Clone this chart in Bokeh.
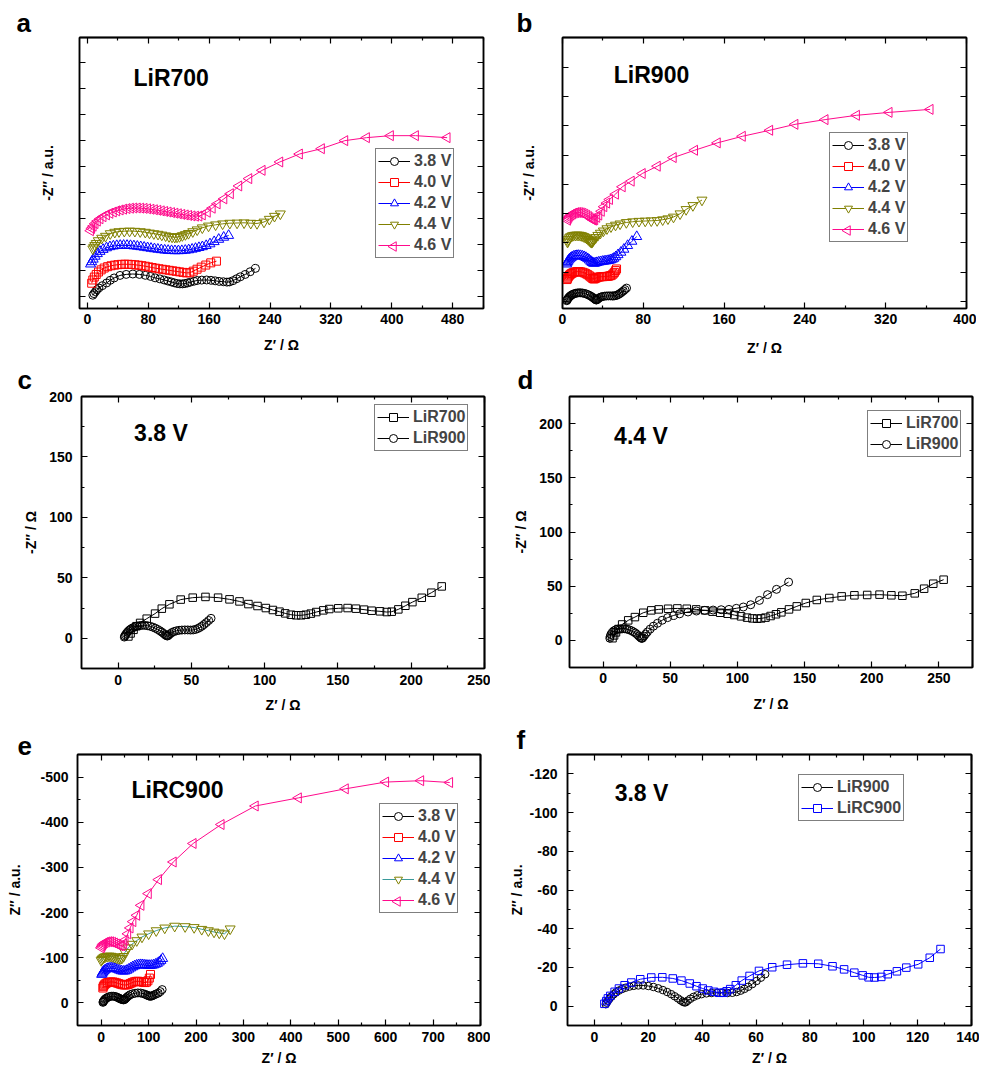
import math
from bokeh.plotting import figure
from bokeh.layouts import column, row
from bokeh.models import FixedTicker, LinearAxis, Range1d, Legend, LegendItem, Label
from bokeh.embed import file_html
from bokeh.resources import INLINE

FONT = "Liberation Sans"
BLACK, RED, BLUE, OLIVE, PINK, TEAL = "#000000", "#ff0000", "#0000ff", "#808000", "#ff0a8c", "#3a9a9a"
VOLTS = ["3.8 V", "4.0 V", "4.2 V", "4.4 V", "4.6 V"]
NAN = float("nan")

# ---------------- data ----------------
# LiR700, 3.8 V (panel c; also panel a)
LIR700_38_X = [7, 8.5, 10.5, 12.5, 15, 19.5, 25.2, 29.8, 35, 42.7, 50.9, 59.6, 68.2, 76, 82.8, 88.9, 95.1, 100.8, 105.6, 110.1,
               114, 117.9, 121.5, 124.9, 128.1, 131.5, 135.2, 140, 144.1, 150.2, 156.6, 162.3, 167.8, 173, 178.7, 183.3,
               186.7, 191.2, 196, 200.8, 207.2, 213.8, 220.8]
LIR700_38_Y = [1.5, 4, 7, 10, 12.7, 16.2, 20.4, 24.5, 28.1, 32, 33.6, 34.2, 33.6, 32.2, 30.5, 28.3, 26.7, 25, 23.4, 22,
               20.6, 19.5, 19, 19, 19.5, 20.4, 21.7, 23.1, 24.2, 24.8, 25, 24.5, 23.7, 22.8, 22.3, 21.7,
               22, 23.9, 26.9, 29.9, 33.5, 37.7, 42.9]
# LiR700, 4.4 V (panel d; also panel a)
LIR700_44_X = [7, 8.2, 9.6, 11.5, 14.2, 18.7, 23.7, 29.9, 35.9, 41.4, 48.4, 55.3, 62.3, 69.3, 76, 81.5, 87.2, 92.7, 97.7,
               102.7, 107.2, 111.2, 114.7, 117.7, 120.9, 124.7, 128.7, 132.7, 138.4, 144.2, 150.9, 159.1, 168.4, 177.6,
               187.1, 196.6, 205.8, 214.6, 222.8, 232, 239, 245.8, 253.5]
LIR700_44_Y = [2, 4.6, 7.4, 10.5, 14.7, 18.5, 21.5, 25.5, 27.7, 28.6, 29.2, 29.5, 29.2, 28.6, 27.7, 26.5, 25.5, 24.6, 23.4,
               22.2, 21, 20.3, 20, 20.3, 21, 22.5, 24.1, 25.9, 28.6, 31.4, 34.5, 37.3, 39.1, 40.6,
               41.6, 41.9, 42.2, 41.6, 41.2, 43.4, 47.7, 52.3, 56]
# LiR700 in panel a (a.u., stacked)
LIR700_40_X = [5.5, 7, 9, 11.5, 14.5, 18, 22, 26.5, 31, 35.5, 40, 44.5, 49, 53.5, 58, 62.5, 67, 71.5, 76, 80.5, 85, 89.5,
               94, 98.5, 103, 107.5, 112, 116.5, 121, 125.5, 130, 134.5, 139, 144, 149.5, 155.5, 162, 169.5]
LIR700_40_Y = [20, 25, 29.5, 33.5, 37.3, 40.6, 43.4, 45.5, 46.9, 47.9, 48.6, 49.1, 49.3, 49.2, 48.9, 48.4, 47.8, 47.1, 46.2,
               45.2, 44.2, 43.2, 42.3, 41.5, 40.7, 39.9, 39.1, 38.3, 37.5, 36.7, 35.9, 36.2, 38.6, 41.6, 44.8, 48, 51.4, 54]
LIR700_42_X = [4, 5.5, 7.5, 10, 13, 16.5, 20.5, 25, 29.5, 34, 38.5, 43, 47.5, 52, 56.5, 61, 65.5, 70, 74.5, 79, 83.5, 88,
               92.5, 97, 101.5, 106, 110.5, 115, 119.5, 124, 128.5, 133, 137.5, 142, 146.5, 151, 156, 161, 166.5, 172.5,
               179, 185.5]
LIR700_42_Y = [49.5, 53, 57, 61.5, 65.5, 69, 72, 74.5, 76.2, 77.3, 78, 78.3, 78.4, 78.3, 78, 77.5, 76.9, 76.2, 75.4, 74.6,
               73.8, 73, 72.3, 71.6, 71, 70.5, 70.2, 70, 70, 70.2, 70.7, 71.4, 72.4, 73.6, 74.9, 76.2, 78, 80.6, 84, 87.6,
               90.8, 93.6]
LIR700_46_X = [4, 5.5, 7.5, 10, 13, 16.5, 20.5, 25, 29.5, 34, 38.5, 43, 47.5, 52, 56.5, 61, 65.5, 70, 74.5, 79, 83.5, 88,
               92.5, 97, 101.5, 106, 110.5, 115, 119.5, 124, 128.5, 133, 137.5, 142, 146.5, 151, 157.5, 164, 170.5, 179.3,
               187.9, 198.9, 212.1, 229.6, 252.8, 278.6, 307.5, 338.2, 366.7, 398.2, 431.1, 472.7]
LIR700_46_Y = [101, 104.5, 108, 112, 115.8, 119.4, 122.6, 125.4, 127.8, 129.8, 131.6, 133, 134.2, 135.1, 135.7, 136, 136,
               135.8, 135.4, 134.8, 134.1, 133.3, 132.5, 131.6, 130.7, 129.8, 128.9, 128, 127.1, 126.2, 125.3, 124.5,
               123.8, 123.4, 123.6, 125.4, 129.5, 135.7, 142.4, 150.1, 158, 170, 181.3, 194.1, 207, 219.3, 227.5, 239.9,
               244.5, 247.6, 247.6, 244.5]
A_OFFSET_38 = 0
A_OFFSET_44 = 71

# LiR900, 3.8 V (panels c, f; also b)
LIR900_38_X = [4.2, 4.5, 5.0, 5.6, 6.3, 7.1, 8.0, 9.0, 10.2, 11.5, 13.0, 14.6, 16.3, 18.1, 20.0, 21.9, 23.7, 25.4, 27.0,
               28.5, 29.8, 31.0, 32.0, 32.8, 33.4, 33.9, 34.6, 35.6, 36.8, 38.2, 39.8, 41.6, 43.5, 45.5, 47.5, 49.4, 51.2,
               52.8, 54.3, 55.7, 57.1, 58.6, 60.2, 61.8, 63.4]
LIR900_38_Y = [1.0, 1.8, 2.8, 3.9, 5.0, 6.1, 7.1, 8.0, 8.8, 9.5, 10.1, 10.5, 10.7, 10.7, 10.4, 9.9, 9.2, 8.3, 7.3, 6.2,
               5.1, 4.0, 3.0, 2.3, 1.9, 2.0, 2.8, 3.8, 4.8, 5.6, 6.2, 6.6, 6.8, 6.9, 6.9, 6.8, 6.9, 7.3, 8.0, 8.9, 10.0,
               11.4, 13.0, 14.7, 16.5]
# LiR900, 4.4 V (panel d; also b)
LIR900_44_X = [5, 5.3, 5.8, 6.9, 8, 9.4, 11, 12.9, 14.5, 16.2, 17.8, 19.4, 21, 22.5, 24, 25.4, 26.6, 27.6, 28.4, 28.9,
               29.5, 30.5, 31.6, 33, 35, 37.5, 40.5, 44, 48, 52.5, 57, 63.2, 69.5, 75.7, 81.9, 87.9, 93.7, 99.2, 104.4,
               109.9, 116.4, 122.4, 129.1, 138.1]
LIR900_44_Y = [2, 3.5, 5.5, 7.5, 8.8, 9.8, 10.4, 10.7, 10.8, 10.7, 10.4, 9.8, 9, 8, 6.8, 5.4, 4, 2.9, 2.1, 1.8,
               2.4, 4, 5.8, 7.8, 10.4, 13.1, 15.8, 18.6, 21, 23, 24.5, 26.2, 27.1, 27.7, 28, 28.3, 28.6, 29.6, 30.8,
               32.9, 36.9, 42.2, 47.1, 53.8]
# LiR900 in panel b (a.u., stacked)
LIR900_40_X = [4.5, 5, 5.5, 6.2, 7, 8, 9, 10.2, 11.5, 13, 14.6, 16.3, 18, 19.8, 21.6, 23.3, 25, 26.6, 28, 29.2, 30.2,
               31, 31.8, 32.8, 34, 35.5, 37, 38.6, 40.2, 41.8, 43.3, 44.8, 46.2, 47.6, 49, 50.2, 51.4, 52.6, 53.5]
LIR900_40_Y = [27, 28.5, 30, 31.3, 32.5, 33.6, 34.5, 35.3, 36, 36.5, 36.8, 36.8, 36.5, 36, 35.2, 34.2, 33, 31.6, 30.2,
               29, 28.2, 27.8, 28, 28.6, 29.3, 29.9, 30.3, 30.5, 30.6, 30.7, 30.8, 31, 31.3, 31.8, 32.6, 34, 35.8, 38, 40]
LIR900_42_X = [4, 4.5, 5.2, 6, 7, 8.2, 9.5, 11, 12.6, 14.3, 16, 17.8, 19.6, 21.4, 23.2, 25, 26.6, 28, 29.2, 30.2, 31.2,
               32.5, 34, 35.8, 37.6, 39.5, 41.3, 43, 44.6, 46.2, 47.8, 49.4, 51, 52.8, 55, 57.8, 60.8, 64.5, 68.7, 73.5]
LIR900_42_Y = [46, 47.5, 49.2, 50.8, 52.3, 53.6, 54.7, 55.6, 56.2, 56.5, 56.6, 56.4, 55.9, 55.1, 54, 52.6, 51, 49.4,
               48.1, 47.3, 47, 47.2, 47.8, 48.4, 48.9, 49.3, 49.6, 49.9, 50.2, 50.6, 51.2, 52, 53.2, 55, 57.5, 60.5,
               64.2, 68.8, 74, 79.8]
LIR900_46_X = [5, 5.6, 6.4, 7.4, 8.6, 10, 11.6, 13.3, 15, 16.8, 18.6, 20.4, 22.2, 24, 25.7, 27.3, 28.7, 30, 31, 32,
               34, 36, 38.5, 41, 43.8, 46.6, 52.5, 59.2, 68.1, 79, 93.9, 109.7, 130.8, 153.3, 178.1, 205.2, 230.2, 260,
               291.1, 323.4, 364]
LIR900_46_Y = [100, 101.8, 103.6, 105.2, 106.6, 107.8, 108.7, 109.3, 109.5, 109.4, 109, 108.3, 107.3, 106, 104.5, 103,
               101.6, 100.5, 100.1, 100.6, 103.5, 106.3, 111, 116.6, 121, 125.5, 132, 141.1, 148, 157.4, 166.4, 177,
               186, 195.1, 203.2, 210.6, 217.9, 223.7, 229, 232.6, 236.3]
B_OFFSET_38 = 0
B_OFFSET_44 = 71

# LiRC900, 3.8 V (panel f; also e)
LIRC900_38_X = [3.7, 4.4, 5, 5.9, 7.5, 9.1, 11.2, 13.7, 17, 21.1, 25.2, 29.1, 32.3, 35.4, 37.9, 40.2, 42.3, 44.4, 46.4,
                47.9, 49.1, 50.4, 52.5, 54.7, 57.6, 61.1, 66, 71.5, 77.4, 83.1, 88.4, 92.7, 96.5, 99.6, 101.8, 104,
                106.5, 108.9, 112.3, 115.8, 120.2, 124.5, 128.5]
LIRC900_38_Y = [1.2, 2.6, 4, 5.3, 7.4, 9.1, 10.8, 12.2, 13.9, 14.8, 14.9, 14.3, 13.2, 11.7, 10.3, 9.1, 8.1, 7.4, 6.9,
                6.9, 7.7, 8.8, 10.8, 13.2, 15.6, 18.2, 20.1, 21.4, 22.1, 21.9, 20.6, 19, 17.3, 15.9, 14.9, 14.8,
                15.1, 16.5, 18, 19.9, 21.6, 25, 29.5]
# LiRC900 in panel e (stacked)
LIRC900_40_X = [3.5, 4.5, 6, 8, 10.5, 13.5, 17, 21, 25, 29, 33, 37, 41, 45, 49, 53, 57, 61, 65, 69, 73, 77, 81, 85, 89,
                92.5, 95.5, 98.5, 101.5, 104]
LIRC900_40_Y = [33, 36, 39, 41.5, 43.5, 45, 46, 46.5, 46.3, 45.5, 44.2, 42.8, 41.3, 40.2, 39.6, 39.8, 41, 42.8, 44.8,
                46.5, 47.6, 48, 47.5, 46.5, 45.5, 45, 46, 49, 55, 63]
LIRC900_42_X = [1, 2, 3.5, 5.5, 8, 11, 14.5, 18.5, 22.5, 26.5, 30.5, 34.5, 38.5, 42.5, 46.5, 50.5, 54.5, 58.5, 62.5,
                66.5, 70.5, 74.5, 78.5, 82.5, 86.5, 90.5, 94.5, 98.5, 102.5, 106.5, 110.5, 114.5, 118.5, 122.5, 126,
                129.6]
LIRC900_42_Y = [63, 65.5, 68, 70.5, 72.8, 74.8, 76.4, 77.4, 77.6, 77, 75.8, 74.2, 72.4, 70.9, 70.2, 70.6, 72.3, 74.8,
                77.4, 79.8, 81.8, 83.3, 84.2, 84.6, 84.5, 84, 83.4, 83, 82.9, 83.2, 84, 85.5, 87.5, 90.5, 94, 98.2]
LIRC900_44_X = [0, 1.5, 3.5, 6, 9, 12.5, 16.5, 20.5, 24.5, 28.5, 32.5, 36.5, 40, 43.5, 47, 50, 57, 65, 75, 86, 100, 116,
                134, 155, 177, 196, 212, 226, 238, 249, 260, 272]
LIRC900_44_Y = [94, 96.5, 99, 101, 102.5, 103.5, 103.8, 103.5, 102.6, 101.3, 99.8, 98.5, 98, 99, 103, 112, 122, 130,
                138, 146, 153, 160, 166, 170, 169, 167, 163, 160, 157, 155, 153, 164]
LIRC900_46_X = [0, 1.5, 3, 5, 8, 12, 16, 20, 24, 28, 32, 36, 40, 44, 47.5, 50.5, 56, 61, 67, 75, 84, 99.5, 121, 152, 194,
                253, 325, 416, 515, 600, 674, 735]
LIRC900_46_Y = [122, 125, 128, 131, 133.5, 135, 135.6, 135.3, 134.2, 132.5, 130.4, 128.2, 126.5, 126.5, 131, 139, 153,
                166, 180, 194, 216, 242, 273, 312, 353, 395, 436, 454, 474, 489, 492, 488]


def shift(vals, off):
    return [v + off for v in vals]


# legend geometry (screen px)
LG_PAD, LG_GW, LG_GH, LG_SP = 2, 32, 20, 1
LEFT = math.pi / 2


def tick_axis(ticks, length):
    ax = LinearAxis(ticker=FixedTicker(ticks=[], minor_ticks=ticks))
    ax.minor_tick_in = length
    ax.minor_tick_out = 0
    ax.major_tick_in = 0
    ax.major_tick_out = 0
    ax.minor_tick_line_width = 1.2
    ax.axis_line_width = 1.5
    ax.major_label_standoff = 0
    return ax


def make_fig(xr, yr, fw, fh, bl, br, bt, bb, xmaj, xmin, ymaj, ymin, xlabel, ylabel, letter, letter_off,
             letter_standoff=0, ylabels="show", xls=5, xas=10, yls=9, yas=7):
    p = figure(frame_width=fw, frame_height=fh, x_range=Range1d(*xr), y_range=Range1d(*yr),
               min_border_left=bl, min_border_right=br, min_border_top=bt, min_border_bottom=bb,
               toolbar_location=None, output_backend="svg")
    p.grid.visible = False
    p.outline_line_color = "black"
    p.outline_line_width = 1.5
    p.background_fill_color = "white"
    p.border_fill_color = "white"

    xa = p.xaxis[0]
    ya = p.yaxis[0]
    xa.ticker = FixedTicker(ticks=xmaj, minor_ticks=xmin)
    if ylabels == "hide":
        ya.ticker = FixedTicker(ticks=[], minor_ticks=ymaj)
        ya.minor_tick_in = 6
    else:
        ya.ticker = FixedTicker(ticks=ymaj, minor_ticks=ymin)
        ya.minor_tick_in = 3
    xa.minor_tick_in = 3
    for ax in (xa, ya):
        ax.major_tick_in = 6
        ax.major_tick_out = 0
        ax.minor_tick_out = 0
        ax.major_tick_line_width = 1.2
        ax.minor_tick_line_width = 1.2
        ax.axis_line_width = 1.5
        ax.major_label_text_font = FONT
        ax.major_label_text_font_style = "bold"
        ax.major_label_text_font_size = "14px"
        ax.major_label_text_color = "black"
        ax.axis_label_text_font = FONT
        ax.axis_label_text_font_style = "bold"
        ax.axis_label_text_font_size = "14px"
        ax.axis_label_text_color = "black"
    xa.axis_label = xlabel
    ya.axis_label = ylabel
    xa.major_label_standoff = xls
    xa.axis_label_standoff = xas
    ya.major_label_standoff = yls if ylabels != "hide" else 0
    ya.axis_label_standoff = yas
    if ylabels == "neg":
        ya.major_label_overrides = {v: ("-%d" % v if v != 0 else "0") for v in ymaj}

    # ticks on the top and right sides (no labels)
    p.add_layout(tick_axis(xmaj, 6), "above")
    if xmin:
        p.add_layout(tick_axis(xmin, 3), "above")
    p.add_layout(tick_axis(ymaj, 6), "right")
    if ymin:
        p.add_layout(tick_axis(ymin, 3), "right")

    # panel letter
    p.title.text = letter
    p.title.align = "left"
    p.title.offset = letter_off
    p.title.standoff = letter_standoff
    p.title.text_font = FONT
    p.title.text_font_style = "bold"
    p.title.text_font_size = "26px"
    p.title.text_color = "black"
    p.title.vertical_align = "bottom"
    return p


def series(p, xs, ys, color, marker, size, angle=0.0, line_color=None):
    l = p.line(xs, ys, line_color=line_color or color, line_width=1)
    p.scatter(xs, ys, marker=marker, size=size, line_color=color, fill_color=None, line_width=1, angle=angle)
    if angle == 0.0:
        # key-only glyph (a single NaN point, never drawn in the plot): white-filled marker as in the original key
        k = p.scatter([NAN], [NAN], marker=marker, line_color=color, fill_color="white", line_width=1)
        rends = [l, k]
    else:
        rends = [l]
    return dict(rends=rends, marker=marker, color=color, angle=angle)


def add_legend(p, labels, specs, loc, xr, yr, fw, fh):
    lg = Legend(items=[LegendItem(label=t, renderers=s["rends"]) for t, s in zip(labels, specs)], location=loc,
                label_text_font=FONT, label_text_font_style="bold", label_text_font_size="16px",
                glyph_width=LG_GW, glyph_height=LG_GH, label_height=LG_GH, spacing=LG_SP, padding=LG_PAD,
                margin=0, label_standoff=4, border_line_color="black", border_line_width=1,
                background_fill_alpha=0.0)
    p.add_layout(lg)
    # rotated (left-pointing) key markers cannot be drawn by the legend itself: draw them under the key line
    n = len(labels)
    h = 2 * LG_PAD + n * LG_GH + (n - 1) * LG_SP
    cx = loc[0] + LG_PAD + LG_GW / 2
    for i, s in enumerate(specs):
        if s["angle"] == 0.0:
            continue
        cy = loc[1] + h - LG_PAD - i * (LG_GH + LG_SP) - LG_GH / 2
        x = xr[0] + cx / fw * (xr[1] - xr[0])
        y = yr[0] + cy / fh * (yr[1] - yr[0])
        p.scatter([x], [y], marker=s["marker"], size=9.5, angle=s["angle"], line_color=s["color"],
                  fill_color="white", line_width=1)


def add_text(p, x, y, t, size="23px"):
    p.add_layout(Label(x=x, y=y, text=t, text_font=FONT, text_font_style="bold", text_font_size=size,
                       text_baseline="alphabetic", text_align="left", text_color="black"))


# ---------------- panel a ----------------
XA, YA = (-10.5, 520.5), (-19, 399)
pa = make_fig(XA, YA, 404, 271, 79, 7, 37, 52,
              list(range(0, 481, 80)), list(range(40, 521, 80)), list(range(0, 361, 40)), [],
              "Z′ / Ω", "-Z″ / a.u.", "a", -63, ylabels="hide", xls=5, xas=10, yas=24)
ra = [
    series(pa, LIR700_38_X, shift(LIR700_38_Y, A_OFFSET_38), BLACK, "circle", 8),
    series(pa, LIR700_40_X, LIR700_40_Y, RED, "square", 8),
    series(pa, LIR700_42_X, LIR700_42_Y, BLUE, "triangle", 10),
    series(pa, LIR700_44_X, shift(LIR700_44_Y, A_OFFSET_44), OLIVE, "inverted_triangle", 10),
    series(pa, LIR700_46_X, LIR700_46_Y, PINK, "triangle", 10, angle=LEFT),
]
add_legend(pa, VOLTS, ra, (296, 50), XA, YA, 404, 271)
add_text(pa, 60.4, 337, "LiR700")

# ---------------- panel b ----------------
XB, YB = (0, 400), (-8.6, 324.7)
pb = make_fig(XB, YB, 404, 271, 72, 10, 34, 55,
              list(range(0, 401, 80)), list(range(40, 400, 80)), list(range(0, 289, 36)), [],
              "Z′ / Ω", "-Z″ / a.u.", "b", -46, ylabels="hide", xls=5, xas=13, yas=26)
rb = [
    series(pb, LIR900_38_X, shift(LIR900_38_Y, B_OFFSET_38), BLACK, "circle", 8),
    series(pb, LIR900_40_X, LIR900_40_Y, RED, "square", 8),
    series(pb, LIR900_42_X, LIR900_42_Y, BLUE, "triangle", 10),
    series(pb, LIR900_44_X, shift(LIR900_44_Y, B_OFFSET_44), OLIVE, "inverted_triangle", 10),
    series(pb, LIR900_46_X, LIR900_46_Y, PINK, "triangle", 10, angle=LEFT),
]
add_legend(pb, VOLTS, rb, (267, 66), XB, YB, 404, 271)
add_text(pb, 50.8, 278, "LiR900")

# ---------------- panel c ----------------
XC, YC = (-25, 250), (-25, 200)
pc = make_fig(XC, YC, 403, 272, 81, 6, 34, 54,
              list(range(0, 251, 50)), list(range(25, 250, 50)), list(range(0, 201, 50)), list(range(25, 200, 50)),
              "Z′ / Ω", "-Z″ / Ω", "c", -64, letter_standoff=4, xls=6, xas=9, yls=9, yas=7)
rc = [
    series(pc, LIR700_38_X, LIR700_38_Y, BLACK, "square", 7.5),
    series(pc, LIR900_38_X, LIR900_38_Y, BLACK, "circle", 8),
]
add_legend(pc, ["LiR700", "LiR900"], rc, (293, 217), XC, YC, 403, 272)
add_text(pc, 10.9, 169.4, "3.8 V")

# ---------------- panel d ----------------
XD, YD = (-25, 275), (-25, 225)
pd_ = make_fig(XD, YD, 403, 271, 79, 8, 35, 54,
               list(range(0, 251, 50)), list(range(25, 276, 50)), list(range(0, 201, 50)), list(range(25, 226, 50)),
               "Z′ / Ω", "-Z″ / Ω", "d", -52, letter_standoff=4, xls=5, xas=10, yls=7, yas=7)
rd = [
    series(pd_, LIR700_44_X, LIR700_44_Y, BLACK, "square", 7.5),
    series(pd_, LIR900_44_X, LIR900_44_Y, BLACK, "circle", 8),
]
add_legend(pd_, ["LiR700", "LiR900"], rd, (298, 210), XD, YD, 403, 271)
add_text(pd_, 8.2, 188.6, "4.4 V")

# ---------------- panel e ----------------
XE, YE = (-50, 800), (-50, 550)
pe = make_fig(XE, YE, 403, 271, 77, 10, 29, 45,
              list(range(0, 801, 100)), list(range(50, 800, 100)), list(range(0, 501, 100)), list(range(50, 551, 100)),
              "Z′ / Ω", "Z″ / a.u.", "e", -60, ylabels="neg", xls=6, xas=5, yls=9, yas=14)
re_ = [
    series(pe, LIRC900_38_X, LIRC900_38_Y, BLACK, "circle", 8),
    series(pe, LIRC900_40_X, LIRC900_40_Y, RED, "square", 8),
    series(pe, LIRC900_42_X, LIRC900_42_Y, BLUE, "triangle", 10),
    series(pe, LIRC900_44_X, LIRC900_44_Y, OLIVE, "inverted_triangle", 10, line_color=TEAL),
    series(pe, LIRC900_46_X, LIRC900_46_Y, PINK, "triangle", 10, angle=LEFT),
]
add_legend(pe, VOLTS, re_, (302, 112), XE, YE, 403, 271)
add_text(pe, 63.8, 470.6, "LiRC900")

# ---------------- panel f ----------------
XF, YF = (-10, 140), (-10, 130)
pf = make_fig(XF, YF, 404, 271, 77, 8, 29, 45,
              list(range(0, 141, 20)), list(range(10, 140, 20)), list(range(0, 121, 20)), list(range(10, 131, 20)),
              "Z′ / Ω", "Z″ / a.u.", "f", -51, ylabels="neg", xls=6, xas=5, yls=10, yas=1)
rf = [
    series(pf, LIR900_38_X, LIR900_38_Y, BLACK, "circle", 7.5),
    series(pf, LIRC900_38_X, LIRC900_38_Y, BLUE, "square", 7.5),
]
add_legend(pf, ["LiR900", "LiRC900"], rf, (231, 204), XF, YF, 404, 271)
add_text(pf, 7.5, 109.9, "3.8 V")

layout = column(row(pa, pb), row(pc, pd_), row(pe, pf))
open("out.html", "w").write(file_html(layout, INLINE))
